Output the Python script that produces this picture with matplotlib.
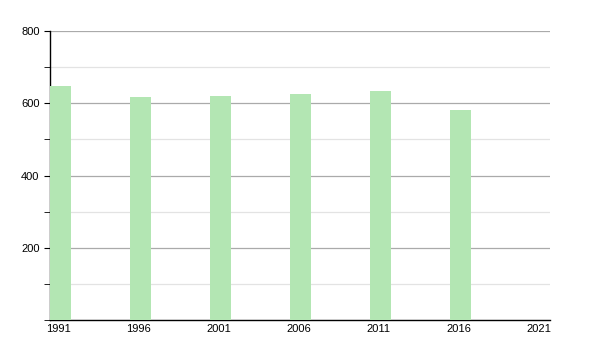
import matplotlib
matplotlib.use("Agg")
import matplotlib.pyplot as plt
from matplotlib.ticker import MultipleLocator

# datos
years = [1991, 1996, 2001, 2006, 2011, 2016, 2021]
values = [647, 617, 619, 625, 633, 581, 0]
tick_labels = ["1991", "1996", "2001", "2006", "2011", "2016", "2021"]

plt.rcParams['font.family'] = ['Liberation Sans', 'DejaVu Sans']

fig = plt.figure(figsize=(6, 3.5), dpi=100)
ax = fig.add_axes([50/600, 30/350, 500/600, 289/350])

w = 1.3
centers = [y + w/2 for y in years]
ax.bar(centers, values, width=w, color='#b3e6b3', zorder=3)

ax.set_xlim(1991, 2022.25)
ax.set_ylim(0, 800)
# etiquetas un poco a la izquierda del centro de la barra
ax.set_xticks([c - 0.1 for c in centers])
ax.set_xticklabels(tick_labels)
ax.tick_params(axis='x', length=0, labelsize=8, pad=3)

ax.yaxis.set_major_locator(MultipleLocator(200))
ax.yaxis.set_minor_locator(MultipleLocator(100))
ax.set_yticks([200, 400, 600, 800])
ax.tick_params(axis='y', which='both', length=4, labelsize=8, color='black')
ax.grid(axis='y', which='major', color='#aaaaaa', linewidth=0.9, zorder=0)
ax.grid(axis='y', which='minor', color='#e3e3e3', linewidth=0.9, zorder=0)

for s in ['top', 'right']:
    ax.spines[s].set_visible(False)
ax.spines['left'].set_linewidth(1.0)
ax.spines['bottom'].set_linewidth(1.0)

fig.savefig("out.png", dpi=100)
